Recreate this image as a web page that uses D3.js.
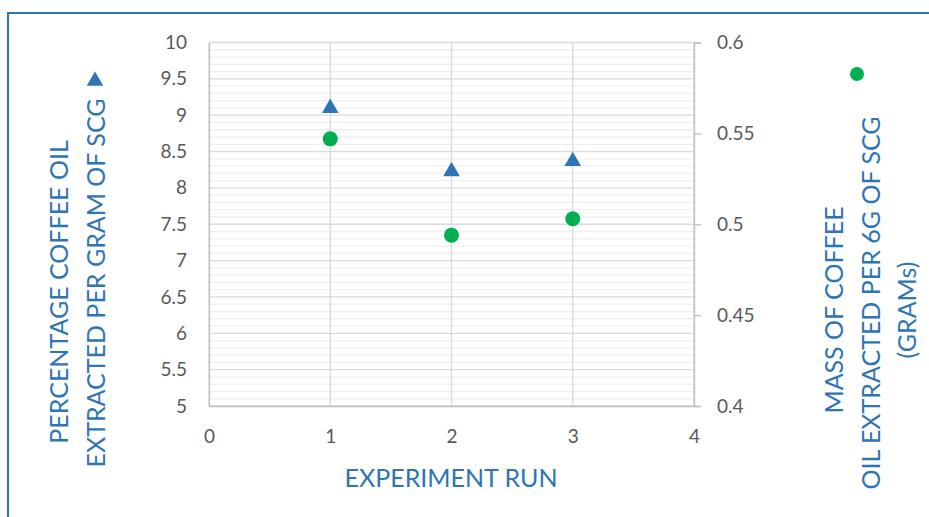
<!DOCTYPE html>
<html>
<head>
<meta charset="utf-8">
<script src="https://cdn.jsdelivr.net/npm/d3@7"></script>
<style>
  html, body { margin: 0; padding: 0; background: #fff; }
  svg { display: block; font-family: Lato, "Open Sans", sans-serif; }
</style>
</head>
<body>
<svg id="chart" width="929" height="517"></svg>
<script>
// Experiment runs and the two measured quantities
const runs = [1, 2, 3];
const percentOil = [9.11, 8.24, 8.38];      // % coffee oil per gram of SCG (left axis)
const massOil = [0.547, 0.494, 0.503];      // grams of oil per 6 g of SCG (right axis)

const xTicks = [0, 1, 2, 3, 4];
const yLeftTicks = [5, 5.5, 6, 6.5, 7, 7.5, 8, 8.5, 9, 9.5, 10];
const yRightTicks = [0.4, 0.45, 0.5, 0.55, 0.6];

const leftTitle = ["PERCENTAGE COFFEE OIL", "EXTRACTED PER GRAM OF SCG"];
const rightTitle = ["MASS OF COFFEE", "OIL EXTRACTED PER 6G OF SCG", "(GRAMs)"];
const xTitle = "EXPERIMENT RUN";

const blue = "#2e75b6";
const green = "#00b050";
const tickColor = "#595959";

const svg = d3.select("#chart");
const plot = { left: 209, right: 694, top: 42.5, bottom: 406 };

const x = d3.scaleLinear().domain([0, 4]).range([plot.left, plot.right]);
const yL = d3.scaleLinear().domain([5, 10]).range([plot.bottom, plot.top]);
const yR = d3.scaleLinear().domain([0.4, 0.6]).range([plot.bottom, plot.top]);

// chart frame
svg.append("rect")
  .attr("x", 8).attr("y", 13)
  .attr("width", 940).attr("height", 520)
  .attr("fill", "none").attr("stroke", blue).attr("stroke-width", 2);

// minor horizontal gridlines every 0.1
const minor = d3.range(50, 101).map(v => v / 10).filter(v => Math.abs(v * 2 - Math.round(v * 2)) > 1e-6);
svg.append("g").selectAll("line").data(minor).join("line")
  .attr("x1", plot.left).attr("x2", plot.right)
  .attr("y1", d => yL(d)).attr("y2", d => yL(d))
  .attr("stroke", "#efefef").attr("stroke-width", 1.3);

// major horizontal gridlines
svg.append("g").selectAll("line").data(yLeftTicks).join("line")
  .attr("x1", plot.left).attr("x2", plot.right)
  .attr("y1", d => yL(d)).attr("y2", d => yL(d))
  .attr("stroke", "#d9d9d9").attr("stroke-width", 1.3);

// vertical gridlines
svg.append("g").selectAll("line").data(xTicks).join("line")
  .attr("x1", d => x(d)).attr("x2", d => x(d))
  .attr("y1", plot.top).attr("y2", plot.bottom)
  .attr("stroke", "#d9d9d9").attr("stroke-width", 1.3);

// axes
const xAxis = svg.append("g")
  .attr("transform", `translate(0,${plot.bottom})`)
  .call(d3.axisBottom(x).tickValues(xTicks).tickSize(0).tickPadding(24).tickFormat(d3.format("d")));
const leftAxis = svg.append("g")
  .attr("transform", `translate(${plot.left},0)`)
  .call(d3.axisLeft(yL).tickValues(yLeftTicks).tickSize(0).tickPadding(22).tickFormat(d => String(d)));
const rightAxis = svg.append("g")
  .attr("transform", `translate(${plot.right},0)`)
  .call(d3.axisRight(yR).tickValues(yRightTicks).tickSize(7).tickPadding(16).tickFormat(d => String(d)));

[xAxis, leftAxis, rightAxis].forEach(g => {
  g.select(".domain").attr("stroke", "#bfbfbf").attr("stroke-width", 1.3);
  g.selectAll(".tick line").attr("stroke", "#bfbfbf").attr("stroke-width", 1.3);
  g.selectAll(".tick text").attr("fill", tickColor).attr("font-size", 19).attr("font-family", "Lato, sans-serif");
});

const triangle = d3.symbol().type(d3.symbolTriangle).size(120);

// percent series (triangles)
svg.append("g").selectAll("path").data(runs).join("path")
  .attr("d", triangle)
  .attr("transform", (d, i) => `translate(${x(d)},${yL(percentOil[i]) + 1})`)
  .attr("fill", blue);

// mass series (circles)
svg.append("g").selectAll("circle").data(runs).join("circle")
  .attr("cx", d => x(d)).attr("cy", (d, i) => yR(massOil[i]))
  .attr("r", 7.5).attr("fill", green);

// legend markers
svg.append("path").attr("d", triangle).attr("transform", "translate(95,81)").attr("fill", blue);
svg.append("circle").attr("cx", 857).attr("cy", 74).attr("r", 7).attr("fill", green);

// axis titles
svg.append("text")
  .attr("x", 451).attr("y", 487)
  .attr("text-anchor", "middle").attr("font-size", 25).attr("fill", blue)
  .text(xTitle);

const leftPos = [{ x: 68, c: 292 }, { x: 105, c: 283 }];
leftTitle.forEach((t, i) => {
  svg.append("text")
    .attr("transform", `translate(${leftPos[i].x},${leftPos[i].c}) rotate(-90)`)
    .attr("text-anchor", "middle").attr("font-size", 25).attr("fill", blue)
    .text(t);
});

const rightPos = [{ x: 843, c: 310 }, { x: 880, c: 303 }, { x: 916, c: 310 }];
rightTitle.forEach((t, i) => {
  svg.append("text")
    .attr("transform", `translate(${rightPos[i].x},${rightPos[i].c}) rotate(-90)`)
    .attr("text-anchor", "middle").attr("font-size", 25).attr("fill", blue)
    .text(t);
});
</script>
</body>
</html>
